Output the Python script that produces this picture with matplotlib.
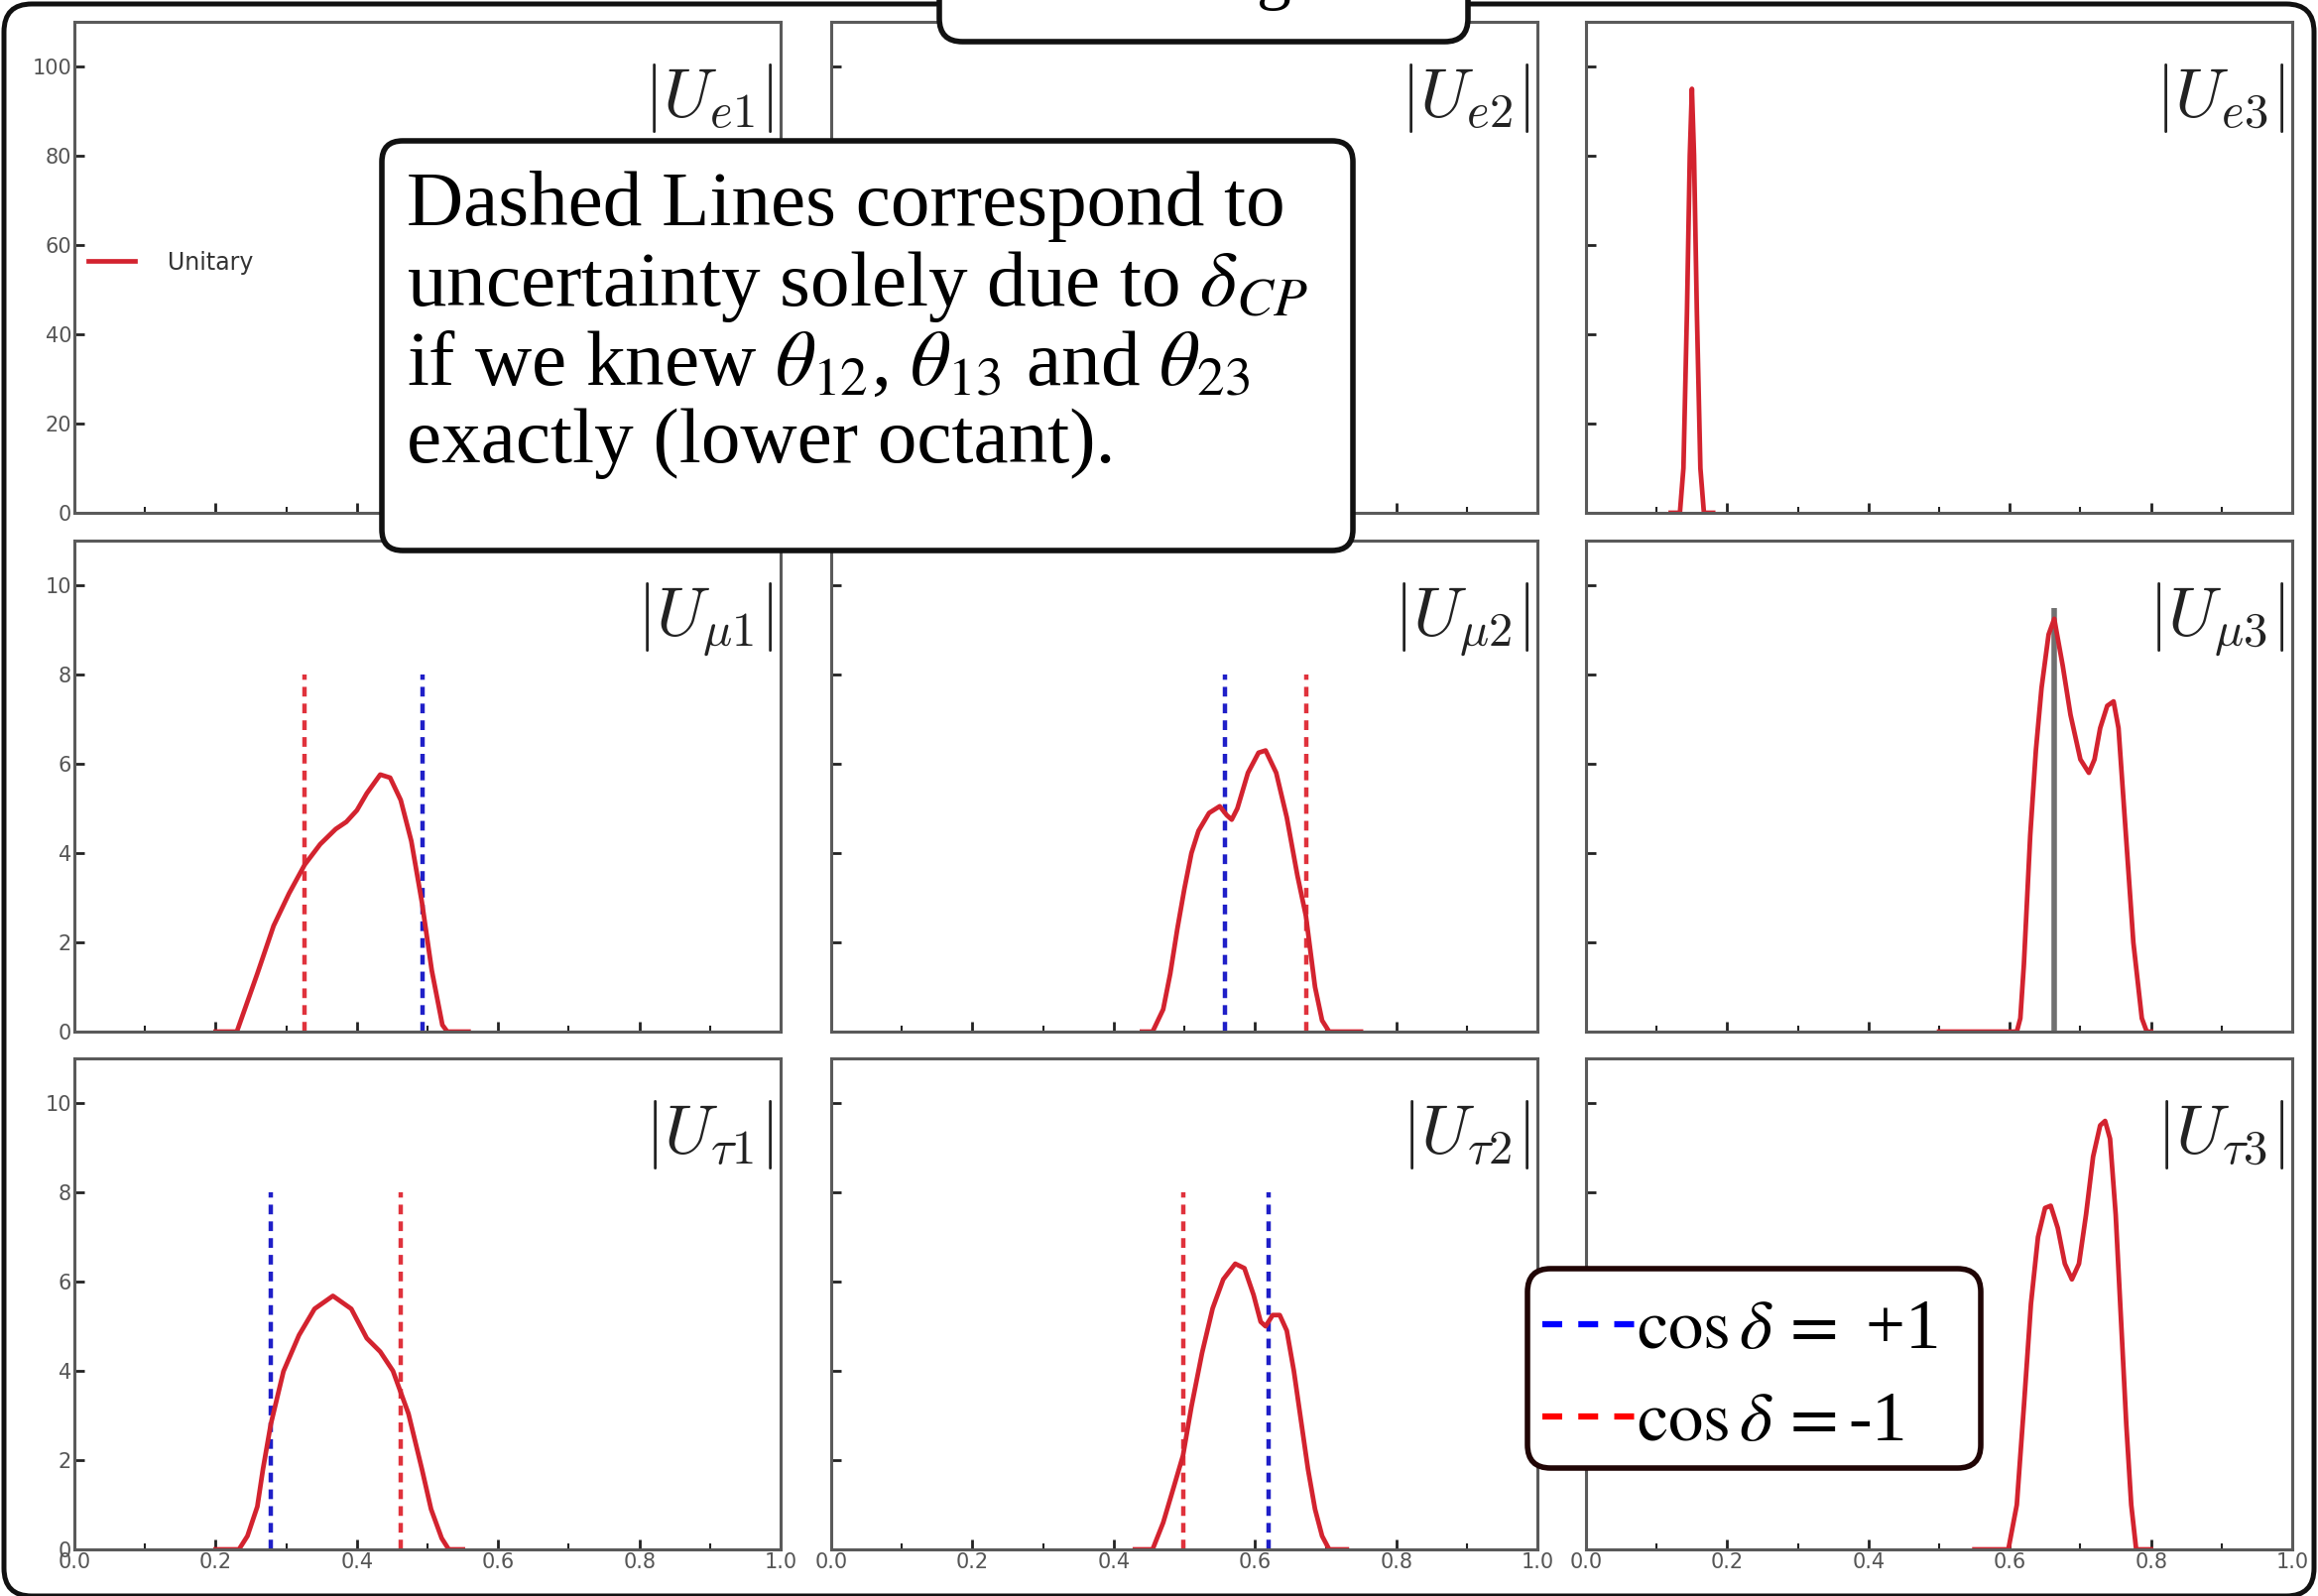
import numpy as np
import matplotlib.pyplot as plt
from matplotlib.patches import FancyBboxPatch
from matplotlib.lines import Line2D

plt.rcParams['mathtext.fontset'] = 'cm'

# --- распределения |U| ---
ue3_x = [0.12, 0.133, 0.138, 0.143, 0.147, 0.150, 0.153, 0.157, 0.162, 0.167, 0.18]
ue3_y = [0, 0, 10, 45, 80, 95, 80, 45, 10, 0, 0]

umu1_x = [0.20, 0.23, 0.259, 0.282, 0.304, 0.326, 0.348, 0.37, 0.385, 0.40, 0.414,
          0.433, 0.447, 0.462, 0.477, 0.492, 0.506, 0.521, 0.528, 0.558]
umu1_y = [0, 0, 1.3, 2.37, 3.1, 3.74, 4.2, 4.54, 4.7, 4.96, 5.34,
          5.76, 5.69, 5.19, 4.27, 2.9, 1.37, 0.15, 0, 0]

umu2_x = [0.44, 0.455, 0.47, 0.48, 0.49, 0.50, 0.51, 0.52, 0.535, 0.55, 0.56, 0.567,
          0.575, 0.59, 0.605, 0.615, 0.63, 0.645, 0.66, 0.672, 0.685, 0.695, 0.705, 0.75]
umu2_y = [0, 0, 0.5, 1.3, 2.3, 3.2, 4.0, 4.5, 4.9, 5.05, 4.85, 4.75,
          5.0, 5.8, 6.25, 6.3, 5.8, 4.8, 3.5, 2.6, 1.0, 0.25, 0, 0]

umu3_x = [0.50, 0.61, 0.615, 0.62, 0.629, 0.637, 0.645, 0.655, 0.663, 0.675, 0.686,
          0.70, 0.712, 0.72, 0.728, 0.738, 0.747, 0.754, 0.761, 0.775, 0.787, 0.794, 0.80]
umu3_y = [0, 0, 0.3, 1.5, 4.4, 6.3, 7.7, 8.9, 9.25, 8.2, 7.1,
          6.1, 5.8, 6.1, 6.8, 7.3, 7.4, 6.8, 5.2, 2.0, 0.3, 0, 0]

utau1_x = [0.20, 0.233, 0.245, 0.259, 0.267, 0.278, 0.296, 0.318, 0.34, 0.366, 0.392,
           0.414, 0.433, 0.451, 0.473, 0.492, 0.505, 0.52, 0.53, 0.55]
utau1_y = [0, 0, 0.3, 0.96, 1.8, 2.8, 3.99, 4.8, 5.39, 5.68, 5.39,
           4.73, 4.43, 4.0, 3.04, 1.8, 0.9, 0.25, 0, 0]

utau2_x = [0.43, 0.455, 0.47, 0.485, 0.498, 0.51, 0.525, 0.54, 0.555, 0.572, 0.585,
           0.598, 0.608, 0.615, 0.625, 0.635, 0.645, 0.655, 0.665, 0.675, 0.685,
           0.695, 0.705, 0.73]
utau2_y = [0, 0, 0.6, 1.4, 2.1, 3.2, 4.4, 5.4, 6.05, 6.4, 6.3,
           5.7, 5.1, 5.0, 5.25, 5.25, 4.9, 4.0, 2.9, 1.8, 0.9,
           0.3, 0, 0]

utau3_x = [0.55, 0.598, 0.61, 0.62, 0.63, 0.64, 0.65, 0.658, 0.668, 0.678, 0.688,
           0.698, 0.708, 0.718, 0.728, 0.735, 0.742, 0.75, 0.758, 0.765, 0.772,
           0.779, 0.80]
utau3_y = [0, 0, 1.0, 3.2, 5.5, 7.0, 7.65, 7.7, 7.2, 6.4, 6.05,
           6.4, 7.5, 8.8, 9.5, 9.6, 9.2, 7.5, 5.0, 2.8, 1.0,
           0, 0]

# штриховые линии: cos δ = +1 (синие) и cos δ = -1 (красные)
plus_pos = {'mu1': 0.493, 'mu2': 0.558, 'tau1': 0.278, 'tau2': 0.619}
minus_pos = {'mu1': 0.326, 'mu2': 0.672, 'tau1': 0.462, 'tau2': 0.498}
dash_top = 8
umu3_line = 0.663
umu3_line_top = 9.5

labels = [[r'$|U_{e1}|$', r'$|U_{e2}|$', r'$|U_{e3}|$'],
          [r'$|U_{\mu1}|$', r'$|U_{\mu2}|$', r'$|U_{\mu3}|$'],
          [r'$|U_{\tau1}|$', r'$|U_{\tau2}|$', r'$|U_{\tau3}|$']]
curves = [[None, None, (ue3_x, ue3_y)],
          [(umu1_x, umu1_y), (umu2_x, umu2_y), (umu3_x, umu3_y)],
          [(utau1_x, utau1_y), (utau2_x, utau2_y), (utau3_x, utau3_y)]]
dash_keys = [[None, None, None], ['mu1', 'mu2', None], ['tau1', 'tau2', None]]

red = '#d3232f'
spine_c = '#5a5a5a'

fig = plt.figure(figsize=(23.37, 16.09), dpi=100)
lefts = [0.0321, 0.3586, 0.6842]
bottoms = [0.6787, 0.3536, 0.0292]
w, h = 0.3047, 0.3076

for r in range(3):
    for c in range(3):
        ax = fig.add_axes([lefts[c], bottoms[r], w, h])
        ax.set_xlim(0, 1)
        if r == 0:
            ax.set_ylim(0, 110)
            ax.set_yticks(np.arange(0, 101, 20))
        else:
            ax.set_ylim(0, 11)
            ax.set_yticks(np.arange(0, 11, 2))
        ax.set_xticks(np.arange(0, 1.01, 0.2))
        ax.set_xticks(np.arange(0.1, 1.0, 0.2), minor=True)
        ax.tick_params(which='both', direction='in', top=False, right=False,
                       labelsize=15, labelcolor='#555555', color='#222222', pad=2)
        ax.tick_params(which='major', length=7, width=2)
        ax.tick_params(which='minor', length=4, width=1.5)
        if r < 2:
            ax.tick_params(labelbottom=False)
        if c > 0:
            ax.tick_params(labelleft=False)
        for s in ax.spines.values():
            s.set_color(spine_c)
            s.set_linewidth(2.2)

        k = dash_keys[r][c]
        if k:
            ax.vlines(plus_pos[k], 0, dash_top, color='#1f1fc8', lw=3.2,
                      linestyles=(0, (2.2, 1.6)))
            ax.vlines(minus_pos[k], 0, dash_top, color='#e0323c', lw=3.2,
                      linestyles=(0, (2.2, 1.6)))
        if r == 1 and c == 2:
            ax.vlines(umu3_line, 0, umu3_line_top, color='#707070', lw=4)
        if curves[r][c] is not None:
            xs, ys = curves[r][c]
            ax.plot(xs, ys, color=red, lw=3.4, solid_joinstyle='round')
        ax.text(0.99, 0.92, labels[r][c], transform=ax.transAxes,
                ha='right', va='top', fontsize=50, color='#222222')
        if r == 0 and c == 0:
            ax.plot([], [], color=red, lw=3.4, label='Unitary')
            leg = ax.legend(loc='center left', bbox_to_anchor=(0.0, 0.51),
                            frameon=False, fontsize=17, handlelength=2.0,
                            handletextpad=1.4, borderaxespad=0.2)
            for t in leg.get_texts():
                t.set_color('#333333')

W, H = 2337.0, 1609.0
asp = W / H

# внешняя рамка слайда
fig.patches.append(FancyBboxPatch((4 / W, 0.0), 1 - 8 / W, 1 - 4 / H,
                                  boxstyle='round,pad=0,rounding_size=0.012',
                                  mutation_aspect=asp, transform=fig.transFigure,
                                  fc='none', ec='#111111', lw=3.6, zorder=5))

# заголовок (обрезан сверху)
fig.patches.append(FancyBboxPatch((947 / W, 1 - 42 / H), 533 / W, 80 / H,
                                  boxstyle='round,pad=0,rounding_size=0.01',
                                  mutation_aspect=asp, transform=fig.transFigure,
                                  fc='white', ec='#111111', lw=4, zorder=6))
fig.text(1213 / W, 1 + 4 / H, r'3$\sigma$ Ranges', ha='center', va='baseline',
         fontsize=50, family='Liberation Serif', math_fontfamily='stix', zorder=7)

# поясняющая надпись
fig.patches.append(FancyBboxPatch((385 / W, 1 - 555 / H), 979 / W, 413 / H,
                                  boxstyle='round,pad=0,rounding_size=0.009',
                                  mutation_aspect=asp, transform=fig.transFigure,
                                  fc='white', ec='#111111', lw=4, zorder=6))
fig.text(410 / W, 1 - 172 / H,
         'Dashed Lines correspond to\n'
         r'uncertainty solely due to $\delta_{CP}$' '\n'
         r'if we knew $\theta_{12}$, $\theta_{13}$ and $\theta_{23}$' '\n'
         'exactly (lower octant).',
         ha='left', va='top', fontsize=57, family='Liberation Serif',
         math_fontfamily='stix', linespacing=1.12, zorder=7)

# легенда cos δ
fig.patches.append(FancyBboxPatch((1540 / W, 1 - 1480 / H), 457 / W, 201 / H,
                                  boxstyle='round,pad=0,rounding_size=0.01',
                                  mutation_aspect=asp, transform=fig.transFigure,
                                  fc='white', ec='#200505', lw=4, zorder=6))
for yy, col, txt in [(1335, 'blue', r'$\cos\delta\,=$ +1'),
                     (1428, 'red', r'$\cos\delta\,=$-1')]:
    fig.lines.append(Line2D([1555 / W, 1650 / W], [1 - yy / H, 1 - yy / H],
                            transform=fig.transFigure, color=col, lw=4.5,
                            linestyle=(0, (3.2, 2.6)), zorder=7))
    fig.text(1650 / W, 1 - (yy + 24) / H, txt, ha='left', va='baseline',
             fontsize=51, family='Liberation Serif', math_fontfamily='stix',
             zorder=7)

fig.savefig('out.png', dpi=100, facecolor='white')
